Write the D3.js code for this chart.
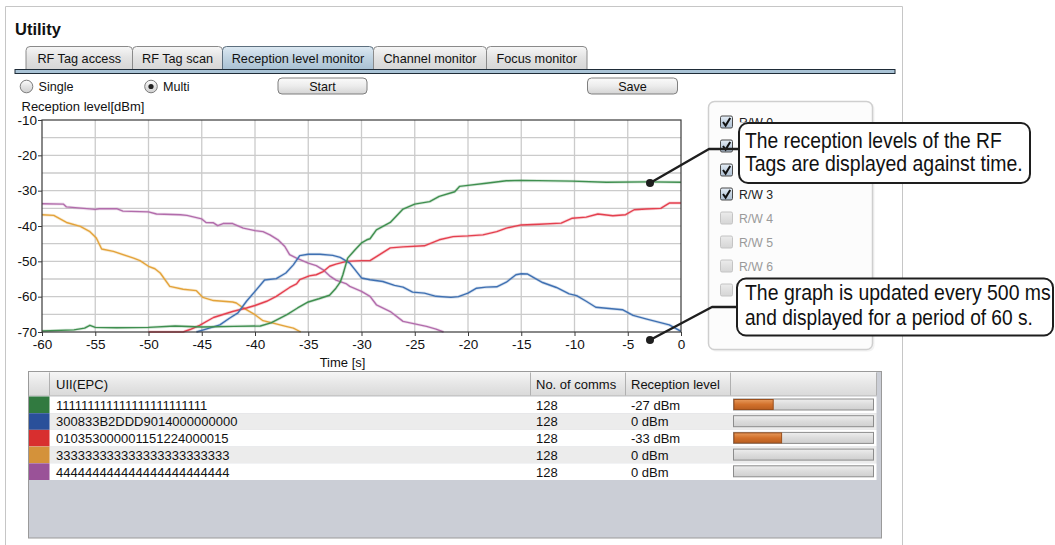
<!DOCTYPE html>
<html><head><meta charset="utf-8">
<script src="https://cdn.jsdelivr.net/npm/d3@7/dist/d3.min.js"></script>
<style>
body{margin:0;background:#fff;}
svg{display:block;font-family:"Liberation Sans",Arial,Helvetica,sans-serif;}
</style>
</head><body>
<svg id="c" width="1055" height="545"></svg>
<script>
// ---------------- DATA ----------------
const timeDomain = [-60, 0];
const levelDomain = [-70, -10];
const xTickLabels = [-60, -55, -50, -45, -40, -35, -30, -25, -20, -15, -10, -5, 0];
const yTickLabels = [-10, -20, -30, -40, -50, -60, -70];
const gridStep = 5;

const tabLabels = ["RF Tag access", "RF Tag scan", "Reception level monitor", "Channel monitor", "Focus monitor"];
const selectedTab = 2;
const readerLabels = ["R/W 0", "R/W 1", "R/W 2", "R/W 3", "R/W 4", "R/W 5", "R/W 6", "R/W 7"];
const readerChecked = [true, true, true, true, false, false, false, false];

const tagIds = ["111111111111111111111111", "300833B2DDD9014000000000", "010353000001151224000015",
                "333333333333333333333333", "444444444444444444444444"];
const lineColors = ["#3f8f4f", "#3f70b2", "#e4404f", "#e3a33a", "#b26cab"];
const swatchColors = ["#317a40", "#2a509a", "#d82f2f", "#d4923a", "#9a5298"];
const commCounts = [128, 128, 128, 128, 128];
const levelTexts = ["-27 dBm", "0 dBm", "-33 dBm", "0 dBm", "0 dBm"];
const barPercent = [28, 0, 34, 0, 0];

// series 0 : green
const greenTimes  = [-60, -57, -56, -55.5, -55, -53, -50, -47.5, -45, -42, -39.5, -38.5, -37, -36, -35, -34, -33, -32.4, -32, -31.75, -31.3, -30.6, -30, -29.5, -29.2, -28.6, -27.3, -26.1, -25, -23.6, -22.7, -21.25, -20.8, -20, -18.3, -16.4, -15, -10.2, -7, -3, 0];
const greenLevels = [-69.7, -69.4, -68.9, -68.1, -68.7, -68.8, -68.7, -68.3, -68.6, -68.4, -68.3, -67.4, -65.1, -63.2, -61.5, -60.6, -59.6, -57.6, -55.9, -53.8, -49.1, -46.7, -44.8, -43.9, -43.6, -41.1, -39.0, -35.2, -33.8, -33.1, -31.6, -30.3, -28.8, -28.5, -27.9, -27.2, -27.1, -27.3, -27.6, -27.5, -27.6];
// series 1 : blue
const blueTimes  = [-45.5, -44.6, -43.3, -42.4, -41.6, -40.8, -40, -39.1, -38, -37.1, -36.4, -35.8, -35, -33.9, -32.7, -32, -31.1, -30, -29.2, -28, -26.9, -26.1, -25.2, -24.1, -23, -21.6, -20.9, -20, -19.2, -18.3, -17.3, -16.4, -15.5, -15, -14.4, -13, -11.7, -10.5, -9.8, -8.9, -8, -5.5, -4.5, -3.3, -1.1, 0];
const blueLevels = [-70, -69.2, -68.0, -66.1, -64.6, -61.3, -58.5, -55.3, -54.9, -53.3, -51.0, -48.4, -48.0, -48.0, -48.3, -48.9, -50.5, -54.7, -55.2, -55.7, -56.8, -57.3, -58.7, -59.0, -59.9, -60.2, -60.0, -59.0, -57.6, -57.3, -57.2, -55.9, -53.8, -53.5, -53.6, -56.0, -57.4, -59.2, -59.7, -61.3, -63.0, -63.7, -65.3, -66.3, -68.0, -69.8];
// series 2 : red
const redTimes  = [-50, -46.75, -46.1, -45.2, -43.9, -42.1, -40.8, -40, -38.9, -38, -36.75, -36.1, -35.8, -34.9, -34.25, -33.6, -33, -32.4, -31.4, -30, -29.2, -28.3, -27.3, -26.1, -24.1, -22.7, -21.4, -20, -18.6, -17.3, -16.4, -15, -13.3, -11.25, -10.2, -8.9, -7.8, -6.4, -5.2, -4.4, -3.3, -1.9, -1.1, 0];
const redLevels = [-70, -70, -69.3, -68.1, -65.9, -64.2, -63.2, -62.5, -61.3, -59.9, -57.4, -56.4, -55.2, -54.1, -53.8, -52.9, -51.4, -50.8, -50.0, -49.8, -49.8, -48.1, -46.2, -45.9, -45.6, -43.9, -43.0, -42.8, -42.5, -41.6, -40.6, -39.7, -39.5, -39.2, -37.8, -37.5, -36.6, -37.1, -36.8, -35.4, -35.2, -35.0, -33.5, -33.5];
// series 3 : orange
const orangeTimes  = [-60, -58.9, -57.7, -56.4, -55.5, -54.9, -54.4, -53.3, -51.4, -50.8, -50, -49.4, -48.9, -48, -46.75, -45.5, -44.9, -43.9, -42.1, -41.75, -41.1, -40, -39.25, -38.3, -37.1, -36.4, -35.7];
const orangeLevels = [-36.8, -37.0, -39.0, -40.1, -41.6, -43.4, -46.5, -47.2, -49.1, -49.8, -51.4, -52.1, -53.3, -57.1, -57.9, -58.3, -60.2, -61.1, -61.5, -61.8, -63.2, -65.1, -66.8, -67.5, -68.4, -68.9, -70];
// series 4 : purple
const purpleTimes  = [-60, -58, -57.7, -55, -54.6, -53, -52.4, -50, -49.25, -47, -46.4, -45, -44.6, -43.9, -43.5, -43, -42.1, -41.1, -40, -39.25, -38.6, -37.8, -37.2, -36.75, -36.1, -35, -34.25, -33.6, -33, -32.4, -31.4, -31.1, -30, -29.2, -28.6, -27.3, -26.1, -25, -23.9, -23, -22.3];
const purpleLevels = [-33.7, -33.8, -34.6, -35.3, -35.1, -35.1, -35.8, -36.0, -36.6, -36.8, -37.0, -38.0, -39.0, -39.1, -39.9, -39.3, -39.3, -40.6, -41.3, -41.6, -42.5, -44.0, -45.8, -48.1, -49.1, -50.5, -51.2, -52.4, -54.1, -55.3, -56.4, -57.1, -58.5, -59.9, -62.3, -64.2, -67.0, -67.7, -68.4, -69.2, -70];

const seriesTimes = [greenTimes, blueTimes, redTimes, orangeTimes, purpleTimes];
const seriesLevels = [greenLevels, blueLevels, redLevels, orangeLevels, purpleLevels];

const calloutTexts = [
  ["The reception levels of the RF", "Tags are displayed against time."],
  ["The graph is updated every 500 ms", "and displayed for a period of 60 s."]
];

// ---------------- DRAW ----------------
const svg = d3.select("#c");
const defs = svg.append("defs");
function vgrad(id, stops) {
  const g = defs.append("linearGradient").attr("id", id).attr("x1", 0).attr("y1", 0).attr("x2", 0).attr("y2", 1);
  stops.forEach((c, i) => g.append("stop").attr("offset", i / (stops.length - 1)).attr("stop-color", c));
}
vgrad("gTab", ["#f7f7f7", "#e2e2e2", "#d6d6d6"]);
vgrad("gTabSel", ["#dde9f2", "#c0d3e1", "#a9c1d3"]);
vgrad("gBtn", ["#fbfbfb", "#ececec", "#d4d4d4"]);
vgrad("gHead", ["#f6f6f6", "#e6e6e6", "#d9d9d9"]);
vgrad("gBar", ["#eeeeee", "#dcdcdc", "#cfcfcf"]);
vgrad("gFill", ["#e79a5c", "#d2712c", "#b95e20"]);
vgrad("gRadio", ["#fdfdfd", "#e3e3e3", "#cfcfcf"]);
vgrad("gChk", ["#e6eef6", "#c4d3e2", "#aebfd2"]);
vgrad("gUnchk", ["#ececec", "#e0e0e0", "#d6d6d6"]);

// narrow text: shrink font so its natural width fits, stretch vertically back to nominal height
function narrowText(parent, str, x0, base, nominal, width, fill) {
  const g = parent.append("g");
  const t = g.append("text").attr("x", 0).attr("y", 0).attr("font-size", nominal).attr("fill", fill).text(str);
  const w = t.node().getComputedTextLength();
  const fs = nominal * Math.min(1, width / w);
  t.attr("font-size", fs);
  g.attr("transform", `translate(${x0},${base}) scale(1,${nominal / fs})`);
  return g;
}

// outer frame (three open lines)
svg.append("path").attr("d", "M5.5,545 L5.5,6.5 L902.5,6.5 L902.5,545")
  .attr("fill", "none").attr("stroke", "#c6c6c6");

svg.append("text").attr("x", 15).attr("y", 35).attr("font-size", 16.5).attr("font-weight", "bold")
  .attr("fill", "#111").text("Utility");

// tabs
const tabEdges = [26, 132.5, 222.5, 373.5, 486.5, 587];
tabLabels.forEach((lab, i) => {
  const x0 = tabEdges[i], x1 = tabEdges[i + 1], y0 = 46.5, y1 = 69.5, r = 4;
  svg.append("path")
    .attr("d", `M${x0},${y1} L${x0},${y0 + r} Q${x0},${y0} ${x0 + r},${y0} L${x1 - r},${y0} Q${x1},${y0} ${x1},${y0 + r} L${x1},${y1}`)
    .attr("fill", i === selectedTab ? "url(#gTabSel)" : "url(#gTab)")
    .attr("stroke", i === selectedTab ? "#5d6f7e" : "#8a8a8a");
  svg.append("text").attr("x", (x0 + x1) / 2).attr("y", 62.7).attr("text-anchor", "middle")
    .attr("font-size", 12.7).attr("fill", "#111").text(lab);
});
svg.append("rect").attr("x", 15).attr("y", 69.5).attr("width", 880).attr("height", 4)
  .attr("fill", "#a9c3d6").attr("stroke", "#1f2c38").attr("stroke-width", 1);

// radios
[[26.5, "Single", false], [151, "Multi", true]].forEach(([cx, lab, sel]) => {
  svg.append("circle").attr("cx", cx).attr("cy", 86.5).attr("r", 6.3)
    .attr("fill", "url(#gRadio)").attr("stroke", "#7d7d7d");
  if (sel) svg.append("circle").attr("cx", cx).attr("cy", 86.5).attr("r", 2.6).attr("fill", "#222");
  svg.append("text").attr("x", cx + 12).attr("y", 91).attr("font-size", 12.6).attr("fill", "#111").text(lab);
});
// buttons
[[278, 89, "Start"], [587.5, 90, "Save"]].forEach(([x, w, lab]) => {
  svg.append("rect").attr("x", x).attr("y", 78).attr("width", w).attr("height", 16).attr("rx", 4)
    .attr("fill", "url(#gBtn)").attr("stroke", "#7f7f7f");
  svg.append("text").attr("x", x + w / 2).attr("y", 90.5).attr("text-anchor", "middle")
    .attr("font-size", 12.6).attr("fill", "#111").text(lab);
});

// ---------- chart ----------
const plot = {l: 42, r: 681, t: 120, b: 332};
const x = d3.scaleLinear().domain(timeDomain).range([plot.l, plot.r]);
const y = d3.scaleLinear().domain(levelDomain).range([plot.b, plot.t]);

svg.append("rect").attr("x", plot.l).attr("y", plot.t).attr("width", plot.r - plot.l).attr("height", plot.b - plot.t).attr("fill", "#fff");
const gridX = d3.range(timeDomain[0] + gridStep, timeDomain[1], gridStep);
const gridY = d3.range(levelDomain[0] + gridStep, levelDomain[1], gridStep);
svg.append("g").selectAll("line").data(gridX).join("line")
  .attr("x1", d => x(d)).attr("x2", d => x(d)).attr("y1", plot.t).attr("y2", plot.b)
  .attr("stroke", "#cbcbcb").attr("stroke-width", 1.3);
svg.append("g").selectAll("line").data(gridY).join("line")
  .attr("y1", d => y(d)).attr("y2", d => y(d)).attr("x1", plot.l).attr("x2", plot.r)
  .attr("stroke", "#cbcbcb").attr("stroke-width", 1.3);

defs.append("clipPath").attr("id", "plotClip").append("rect")
  .attr("x", plot.l).attr("y", plot.t).attr("width", plot.r - plot.l).attr("height", plot.b - plot.t + 1);
const line = d3.line().x(d => x(d[0])).y(d => y(d[1]));
const lines = svg.append("g").attr("clip-path", "url(#plotClip)");
[4, 3, 2, 1, 0].forEach(i => {
  const pts = seriesTimes[i].map((t, k) => [t, seriesLevels[i][k]]);
  lines.append("path").attr("d", line(pts)).attr("fill", "none")
    .attr("stroke", lineColors[i]).attr("stroke-opacity", 0.22).attr("stroke-width", 3).attr("stroke-linejoin", "round");
  lines.append("path").attr("d", line(pts)).attr("fill", "none")
    .attr("stroke", lineColors[i]).attr("stroke-width", 1.4).attr("stroke-linejoin", "round");
});

svg.append("rect").attr("x", plot.l).attr("y", plot.t).attr("width", plot.r - plot.l).attr("height", plot.b - plot.t)
  .attr("fill", "none").attr("stroke", "#3a3a3a").attr("stroke-width", 1.2);

const yAxis = svg.append("g").attr("transform", `translate(${plot.l},0)`)
  .call(d3.axisLeft(y).tickValues(yTickLabels).tickSize(4).tickPadding(1).tickFormat(d3.format("d")));
const xAxis = svg.append("g").attr("transform", `translate(0,${plot.b})`)
  .call(d3.axisBottom(x).tickValues(xTickLabels).tickSize(4).tickPadding(3).tickFormat(d3.format("d")));
[yAxis, xAxis].forEach(g => {
  g.select(".domain").remove();
  g.selectAll(".tick line").attr("stroke", "#3a3a3a");
  g.selectAll(".tick text").attr("font-size", 13.5).attr("fill", "#111")
    .attr("font-family", '"Liberation Sans",Arial,sans-serif')
    .text(d => d3.format("d")(d).replace("−", "-"));
});
svg.append("text").attr("x", 21.5).attr("y", 111).attr("font-size", 13).attr("fill", "#111").text("Reception level[dBm]");
svg.append("text").attr("x", 342.5).attr("y", 367).attr("text-anchor", "middle").attr("font-size", 13).attr("fill", "#111").text("Time [s]");

// ---------- checkbox panel ----------
const callouts = [
  {box: [739, 123, 291, 60], pts: [[650, 183], [709, 149], [739, 149]], base: [148, 171], widths: [257, 278]},
  {box: [737, 278.5, 316, 57], pts: [[650, 340], [712, 307], [737, 307]], base: [300, 325], widths: [306, 288]}
];
svg.append("rect").attr("x", 709.5).attr("y", 102.5).attr("width", 165).attr("height", 249).attr("rx", 6)
  .attr("fill", "#e9e9e9").attr("opacity", 0.6);
svg.append("rect").attr("x", 708.5).attr("y", 101.5).attr("width", 164).attr("height", 248).attr("rx", 6)
  .attr("fill", "#fcfcfc").attr("stroke", "#cfcfcf").attr("stroke-width", 1.5);
defs.append("clipPath").attr("id", "lblClip").append("rect")
  .attr("x", 0).attr("y", -20).attr("width", 60).attr("height", 15.5);
readerLabels.forEach((lab, i) => {
  const cy = 122 + i * 24;
  const on = readerChecked[i];
  svg.append("rect").attr("x", 720.5).attr("y", cy - 6).attr("width", 12).attr("height", 12).attr("rx", 1.5)
    .attr("fill", on ? "url(#gChk)" : "url(#gUnchk)").attr("stroke", on ? "#4a4a4a" : "#c4c4c4");
  if (on) svg.append("path").attr("d", `M${723},${cy} L${725.6},${cy + 3.6} L${730.2},${cy - 4}`)
    .attr("fill", "none").attr("stroke", "#111").attr("stroke-width", 2);
  // labels fully covered by a callout box are not visible in the picture
  const covered = callouts.some(c => cy - 6 >= c.box[1] && cy + 6 <= c.box[1] + c.box[3]);
  if (covered) return;
  const g = narrowText(svg, lab, 739, cy + 5, 13.2, 34, on ? "#222" : "#9a9a9a");
  if (cy + 5 > 123 && cy < 123) g.select("text").attr("clip-path", "url(#lblClip)");
});

// ---------- callouts ----------
callouts.forEach((c, i) => {
  svg.append("path").attr("d", d3.line()(c.pts)).attr("fill", "none").attr("stroke", "#1e1e1e")
    .attr("stroke-width", 2.4).attr("stroke-linejoin", "round");
  svg.append("circle").attr("cx", c.pts[0][0]).attr("cy", c.pts[0][1]).attr("r", 4).attr("fill", "#1e1e1e");
  svg.append("rect").attr("x", c.box[0]).attr("y", c.box[1]).attr("width", c.box[2]).attr("height", c.box[3])
    .attr("rx", 9).attr("fill", "#fff").attr("stroke", "#1e1e1e").attr("stroke-width", 2);
  calloutTexts[i].forEach((t, k) => narrowText(svg, t, 745, c.base[k], 22, c.widths[k], "#111"));
});

// ---------- table ----------
const tb = {l: 28.5, r: 881.5, t: 371.5, b: 538, inner: 876.5, head: 24, row: 16.7};
svg.append("rect").attr("x", tb.l).attr("y", tb.t).attr("width", tb.r - tb.l).attr("height", tb.b - tb.t)
  .attr("fill", "#cbced6").attr("stroke", "#9a9a9a");
svg.append("rect").attr("x", tb.l + 0.5).attr("y", tb.t + 0.5).attr("width", tb.inner - tb.l - 0.5).attr("height", tb.head)
  .attr("fill", "url(#gHead)");
svg.append("line").attr("x1", tb.l).attr("x2", tb.inner).attr("y1", tb.t + tb.head + 0.5).attr("y2", tb.t + tb.head + 0.5).attr("stroke", "#b4b4b4");
const colDiv = [49.5, 530.5, 625.5, 730.5, tb.inner];
colDiv.forEach(cx => svg.append("line").attr("x1", cx).attr("x2", cx).attr("y1", tb.t + 1).attr("y2", tb.t + tb.head)
  .attr("stroke", "#b0b0b0"));
[["UII(EPC)", 56], ["No. of comms", 536], ["Reception level", 631]].forEach(([t, hx]) =>
  svg.append("text").attr("x", hx).attr("y", 388.5).attr("font-size", 13).attr("fill", "#111").text(t));

const rowTop = tb.t + tb.head + 1;
tagIds.forEach((id, i) => {
  const ry = rowTop + i * tb.row;
  svg.append("rect").attr("x", tb.l + 0.5).attr("y", ry).attr("width", tb.inner - tb.l - 0.5).attr("height", tb.row)
    .attr("fill", i % 2 ? "#ececec" : "#ffffff");
  svg.append("rect").attr("x", tb.l + 0.5).attr("y", ry).attr("width", 20.5).attr("height", tb.row).attr("fill", swatchColors[i]);
  const base = ry + 13.2;
  svg.append("text").attr("x", 56).attr("y", base).attr("font-size", 13).attr("fill", "#111").text(id);
  svg.append("text").attr("x", 536).attr("y", base).attr("font-size", 13).attr("fill", "#111").text(commCounts[i]);
  svg.append("text").attr("x", 631).attr("y", base).attr("font-size", 13).attr("fill", "#111").text(levelTexts[i]);
  const bw = 140;
  svg.append("rect").attr("x", 733.5).attr("y", ry + 2.5).attr("width", bw).attr("height", 11)
    .attr("fill", "url(#gBar)").attr("stroke", "#8c8c8c");
  if (barPercent[i] > 0) svg.append("rect").attr("x", 734).attr("y", ry + 3).attr("width", bw * barPercent[i] / 100).attr("height", 10)
    .attr("fill", "url(#gFill)").attr("stroke", "#9b4f1c");
});
</script>
</body></html>
